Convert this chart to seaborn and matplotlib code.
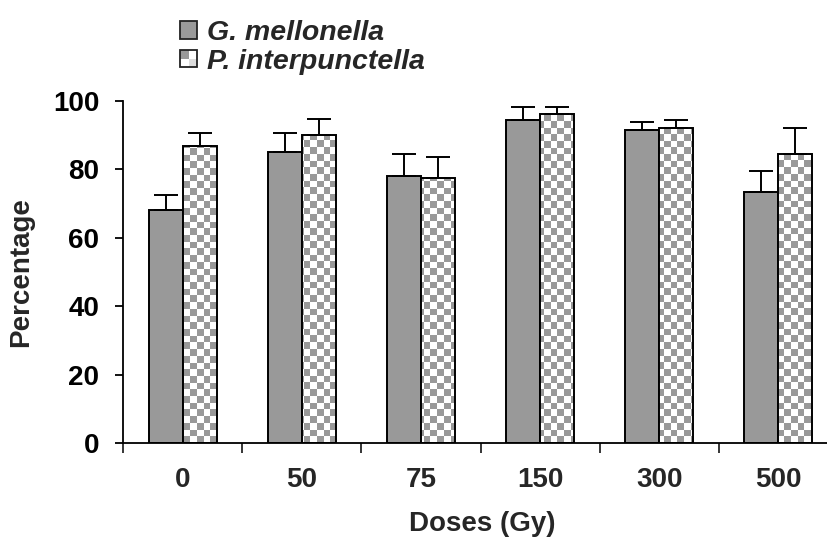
import numpy as np
import pandas as pd
import matplotlib
matplotlib.use("Agg")
import matplotlib.pyplot as plt
import seaborn as sns
from matplotlib.patches import Rectangle, Patch
from matplotlib.colors import ListedColormap
from matplotlib.legend_handler import HandlerBase

# values
doses = ["0", "50", "75", "150", "300", "500"]
species = ["G. mellonella", "P. interpunctella"]
g_mean = [68.2, 85.0, 78.2, 94.4, 91.4, 73.4]
g_err = [4.3, 5.6, 6.4, 3.9, 2.6, 6.0]
p_mean = [86.8, 90.1, 77.6, 96.1, 92.2, 84.5]
p_err = [3.8, 4.7, 6.1, 2.2, 2.2, 7.7]

gray = "#999999"

df = pd.DataFrame({
    "dose": doses * 2,
    "species": [species[0]] * len(doses) + [species[1]] * len(doses),
    "value": g_mean + p_mean,
})

sns.set_style("ticks")
plt.rcParams["font.family"] = ["Liberation Sans", "DejaVu Sans"]
plt.rcParams["font.weight"] = "bold"

fig = plt.figure(figsize=(8.28, 5.41), dpi=100)
ax = fig.add_axes([0.1486, 0.1811, 0.8635, 0.6322])

sns.barplot(data=df, x="dose", y="value", hue="species", order=doses,
            hue_order=species, palette=[gray, "white"], width=0.57,
            errorbar=None, edgecolor="black", linewidth=1.4, legend=False, ax=ax)

# checkerboard fill for the second series, clipped to each bar
tex = np.add.outer(np.arange(51), np.arange(107)) % 2
checker_cmap = ListedColormap(["white", gray])
for bar in ax.containers[1]:
    bar.set_facecolor("none")
    bar.set_zorder(3)
    im = ax.imshow(tex, cmap=checker_cmap, extent=(-0.5, 5.5, 0, 100),
                   aspect="auto", interpolation="nearest", zorder=2, origin="lower")
    im.set_clip_path(bar)
ax.set_xlim(-0.5, 5.5)
ax.set_ylim(0, 100)

# upper error bars only
for cont, err in zip(ax.containers[:2], [g_err, p_err]):
    xs = [b.get_x() + b.get_width() / 2 for b in cont]
    ys = [b.get_height() for b in cont]
    ax.errorbar(xs, ys, yerr=[np.zeros(len(err)), err], fmt="none",
                ecolor="black", elinewidth=1.4, capsize=8.5, capthick=1.4, zorder=4)

sns.despine(ax=ax)
for s in ["left", "bottom"]:
    ax.spines[s].set_linewidth(1.3)
    ax.spines[s].set_color("black")

ax.set_yticks([0, 20, 40, 60, 80, 100])
ax.tick_params(axis="y", direction="out", length=6, width=1.3, pad=11,
               labelsize=20, colors="black")
ax.set_xticks(range(len(doses)))
ax.set_xticklabels(doses)
ax.set_xticks(np.arange(-0.5, len(doses)), minor=True)
ax.tick_params(axis="x", which="major", length=0, pad=17, labelsize=20)
ax.tick_params(axis="x", which="minor", direction="out", length=7.5, width=1.3)
for lab in ax.get_xticklabels() + ax.get_yticklabels():
    lab.set_fontweight("bold")

ax.set_xlabel("Doses (Gy)", fontsize=20, fontweight="bold")
ax.set_ylabel("Percentage", fontsize=20, fontweight="bold")
ax.xaxis.set_label_coords(0.502, -0.2)
ax.yaxis.set_label_coords(-0.124, 0.5)


class SquareHandler(HandlerBase):
    def create_artists(self, legend, orig_handle, xdescent, ydescent,
                       width, height, fontsize, trans):
        s = min(width, height)
        x0 = -xdescent
        y0 = -ydescent + (height - s) / 2
        arts = [Rectangle((x0, y0), s, s, facecolor=orig_handle.get_facecolor(),
                          edgecolor="none", transform=trans)]
        if orig_handle.get_label() == "checker":
            h = s / 2
            arts.append(Rectangle((x0, y0 + h), h, h, facecolor=gray,
                                  edgecolor="none", transform=trans))
            arts.append(Rectangle((x0 + h, y0), h, h, facecolor="#dddddd",
                                  edgecolor="none", transform=trans))
        arts.append(Rectangle((x0, y0), s, s, facecolor="none",
                              edgecolor="#222222", linewidth=1.3, transform=trans))
        return arts


handles = [Patch(facecolor=gray, label="solid"), Patch(facecolor="white", label="checker")]
fig.legend(handles, species, loc="upper left", bbox_to_anchor=(180 / 828, 1 - 20 / 541),
           frameon=False, handler_map={Patch: SquareHandler()},
           prop={"size": 20.5, "weight": "bold", "style": "italic"},
           handlelength=0.6, handleheight=0.6, handletextpad=0.35,
           labelspacing=0.1, borderpad=0, borderaxespad=0)

fig.savefig("out.png", dpi=100)
